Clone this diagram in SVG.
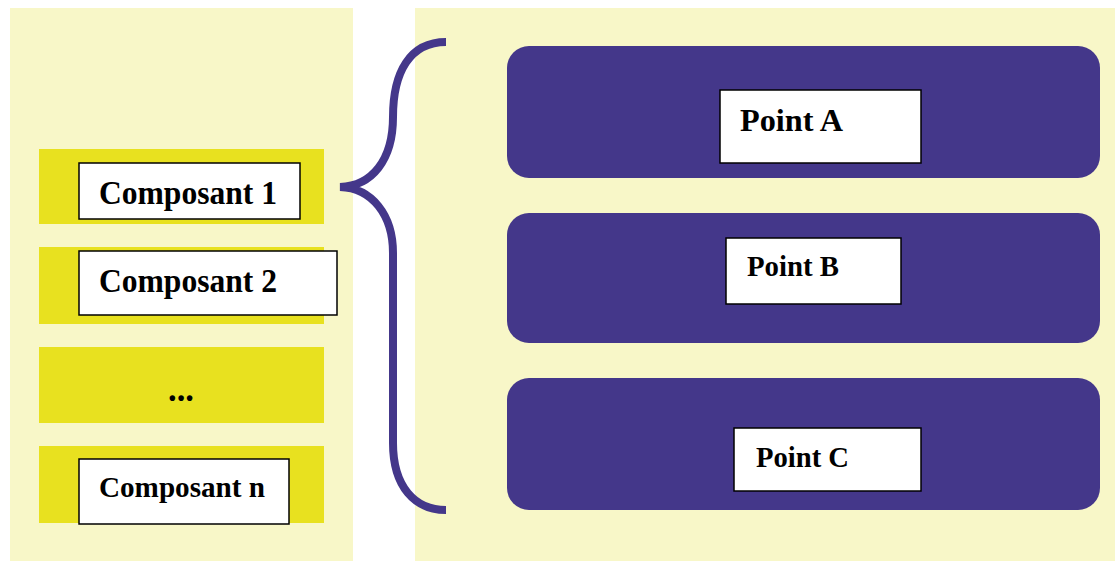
<svg xmlns="http://www.w3.org/2000/svg" width="1115" height="562" viewBox="0 0 1115 562">
<style>
.panel{fill:#F8F7C8}
.bar{fill:#E8E11F}
.box{fill:#FFFFFF;stroke:#000000;stroke-width:1.5}
.pt{fill:#44378A}
.lbl{font-family:"Liberation Serif","Times New Roman",serif;font-weight:bold;fill:#000000}
.brace{fill:none;stroke:#44378A;stroke-width:8;stroke-linejoin:miter;stroke-miterlimit:4}
</style>
<rect width="1115" height="562" fill="#FFFFFF"/>
<g id="panel-left"><rect class="panel" x="10" y="8" width="343" height="553"/></g>
<g id="panel-right"><rect class="panel" x="415" y="8" width="700" height="553"/></g>
<g id="composant1">
<rect class="bar" x="39" y="149" width="285" height="75"/>
<rect class="box" x="79" y="163" width="221" height="56"/>
<text class="lbl" x="99" y="204" font-size="34" textLength="178" lengthAdjust="spacingAndGlyphs">Composant 1</text>
</g>
<g id="composant2">
<rect class="bar" x="39" y="247" width="285" height="77"/>
<rect class="box" x="79" y="251" width="258" height="64"/>
<text class="lbl" x="99" y="292" font-size="34" textLength="178" lengthAdjust="spacingAndGlyphs">Composant 2</text>
</g>
<g id="composant-dots">
<rect class="bar" x="39" y="347" width="285" height="76"/>
<text class="lbl" x="168" y="401" font-size="36" textLength="26" lengthAdjust="spacingAndGlyphs">...</text>
</g>
<g id="composantn">
<rect class="bar" x="39" y="446" width="285" height="77"/>
<rect class="box" x="79" y="459" width="210" height="65"/>
<text class="lbl" x="99" y="497" font-size="30" textLength="166" lengthAdjust="spacingAndGlyphs">Composant n</text>
</g>
<g id="connectors">
<path class="brace" d="M446,42 C410,42 393,72 393,117 C393,160 372,186 340,187 C372,188 393,215 393,253 L393,443 C393,487 415,510 446,510"/>
</g>
<g id="pointA">
<rect class="pt" x="507" y="46" width="593" height="132" rx="22"/>
<rect class="box" x="720" y="90" width="201" height="73"/>
<text class="lbl" x="740" y="131" font-size="32" textLength="103" lengthAdjust="spacingAndGlyphs">Point A</text>
</g>
<g id="pointB">
<rect class="pt" x="507" y="213" width="593" height="130" rx="22"/>
<rect class="box" x="726" y="238" width="175" height="66"/>
<text class="lbl" x="747" y="276" font-size="29" textLength="92" lengthAdjust="spacingAndGlyphs">Point B</text>
</g>
<g id="pointC">
<rect class="pt" x="507" y="378" width="593" height="132" rx="22"/>
<rect class="box" x="734" y="428" width="187" height="63"/>
<text class="lbl" x="756" y="467" font-size="30" textLength="93" lengthAdjust="spacingAndGlyphs">Point C</text>
</g>
</svg>
